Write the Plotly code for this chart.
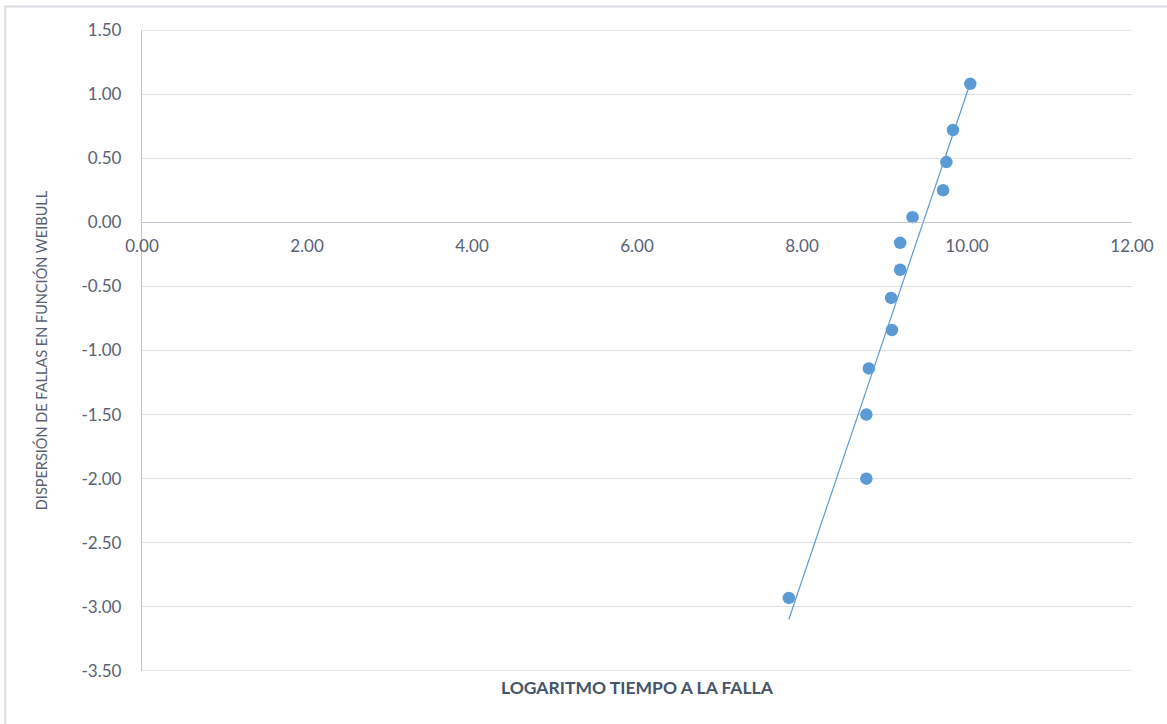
import numpy as np
import plotly.graph_objects as go

# Data
log_time = [7.84, 8.78, 8.78, 8.81, 9.09, 9.08, 9.19, 9.19, 9.34, 9.71, 9.75, 9.83, 10.04]
weibull = [-2.93, -2.00, -1.50, -1.14, -0.84, -0.59, -0.37, -0.16, 0.04, 0.25, 0.47, 0.72, 1.08]

x_ticks = [0, 2, 4, 6, 8, 10, 12]
y_ticks = [1.5, 1.0, 0.5, 0.0, -0.5, -1.0, -1.5, -2.0, -2.5, -3.0, -3.5]

BLUE = "#5B9BD5"
TXT = "#586174"
TITLE = "#44546A"
GRID = "#DDE0E6"
FONT = "Lato"

# Linear trendline (least squares) over the data range
slope, intercept = np.polyfit(log_time, weibull, 1)
tx = np.array([min(log_time), max(log_time)])
ty = slope * tx + intercept

fig = go.Figure()
fig.add_trace(go.Scatter(x=tx, y=ty, mode="lines",
                         line=dict(color=BLUE, width=1.2),
                         hoverinfo="skip", showlegend=False))
fig.add_trace(go.Scatter(x=log_time, y=weibull, mode="markers",
                         marker=dict(color=BLUE, size=12.5, line=dict(width=0)),
                         showlegend=False))

# gridlines at the plot edges (plotly hides those)
edge_lines = [dict(type="line", xref="paper", yref="y", x0=0, x1=1,
                   y0=v, y1=v, line=dict(color=GRID, width=1.3), layer="below")
              for v in (max(y_ticks), min(y_ticks))]

fig.update_layout(
    width=1167, height=724,
    margin=dict(l=141.5, r=35.3, t=29.5, b=53),
    paper_bgcolor="white", plot_bgcolor="white",
    font=dict(family=FONT, color=TXT, size=17),
    xaxis=dict(
        range=[0, 12], tickvals=x_ticks,
        ticktext=[f"{v:.2f}" for v in x_ticks],
        showgrid=False, zeroline=False,
        showline=True, linecolor="#BFC4CE", linewidth=1.3,
        anchor="free", position=0.7,
        ticks="outside", ticklen=8, tickcolor="rgba(0,0,0,0)",
        tickfont=dict(family=FONT, size=17, color=TXT),
    ),
    yaxis=dict(
        range=[-3.5, 1.5], tickvals=y_ticks,
        ticktext=[f"{v:.2f}" for v in y_ticks],
        showgrid=True, gridcolor=GRID, gridwidth=1,
        zeroline=False,
        showline=True, linecolor="#BFC4CE", linewidth=1.3,
        ticks="outside", ticklen=16, tickcolor="rgba(0,0,0,0)",
        tickfont=dict(family=FONT, size=17, color=TXT),
        title=dict(text="DISPERSIÓN DE FALLAS EN FUNCIÓN WEIBULL",
                   font=dict(family=FONT, size=14.5, color=TXT), standoff=30),
    ),
    shapes=[dict(type="rect", xref="paper", yref="paper",
                 x0=-0.138, x1=1.2, y0=-0.3, y1=1.0366,
                 line=dict(color="#D9DDE3", width=2), layer="below")] + edge_lines,
    annotations=[dict(text="<b>LOGARITMO TIEMPO A LA FALLA</b>",
                      xref="paper", yref="paper", x=0.5, y=-0.0257,
                      xanchor="center", yanchor="middle", showarrow=False,
                      font=dict(family=FONT, size=17.5, color=TITLE))],
)

fig.write_html("out.html")
